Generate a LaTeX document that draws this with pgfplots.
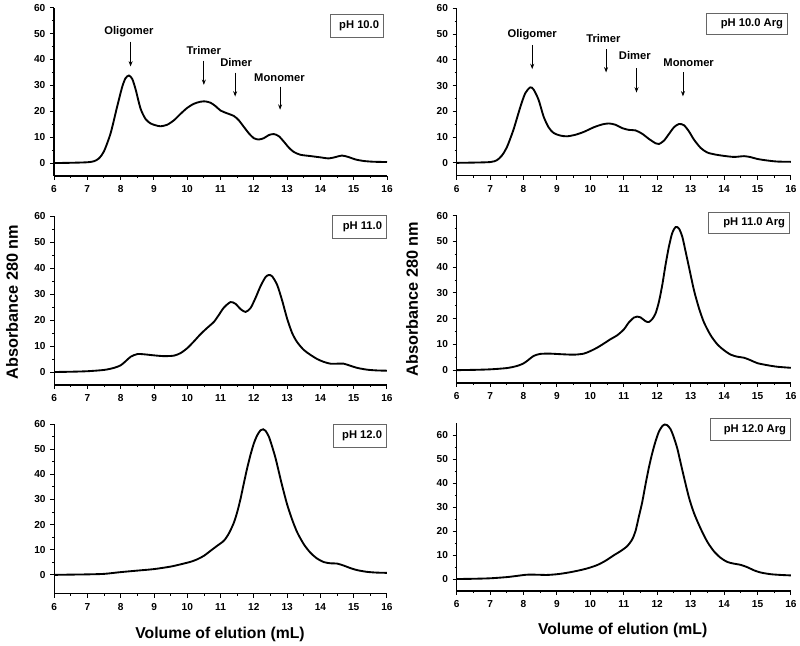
\documentclass[border=0pt]{standalone}
\usepackage{fontspec}
\setmainfont{Liberation Sans}
\usepackage{pgfplots}
\pgfplotsset{compat=1.18}
\usetikzlibrary{arrows.meta}

\pgfplotsset{
  panel/.style={
    scale only axis, anchor=south west, clip=false,
    xmin=6, xmax=16, xtick={6,...,16}, minor x tick num=1,
    ytick={0,10,...,60}, minor y tick num=1,
    axis lines=left, axis line style={-, line width=0.8pt},
    tick align=outside, major tick length=3pt, minor tick length=1.6pt,
    every tick/.style={black, line width=0.7pt},
    tick label style={font=\fontsize{7.6}{9}\selectfont\bfseries},
    /pgf/number format/assume math mode=true,
    xticklabel style={yshift=-0.5pt},
  },
  trace/.style={black, line width=1.4pt, smooth, tension=0.45},
}
% #1 position, #2 text, #3 box width, #4 box height
\newcommand{\phbox}[4]{\node[draw=gray!80!black, line width=0.6pt, anchor=north east,
  minimum height=#4, minimum width=#3, inner sep=0pt,
  font=\fontsize{8.4}{10}\selectfont\bfseries] (b) at (rel axis cs:#1) {};
  \node[anchor=east, inner sep=0pt, font=\fontsize{8.4}{10}\selectfont\bfseries] at ([xshift=-3.5pt]b.east) {#2};}
\tikzset{ann/.style={font=\fontsize{8.4}{10}\selectfont\bfseries},
  arr/.style={-{Stealth[length=4pt,width=3pt]}, line width=0.6pt}}

\begin{document}
\begin{tikzpicture}
\path[use as bounding box] (0,0) rectangle (600pt,484.5pt);

% pH 10.0
\begin{axis}[panel, at={(40.5pt,352.5pt)}, width=249.75pt, height=126.2pt, ymin=-5, ymax=60]
\addplot[trace] coordinates {(6,0)(6.5,0.1)(7,0.3)(7.2,0.7)(7.35,1.8)(7.5,4.5)(7.7,11.5)(7.9,22)(8.05,29.5)(8.15,32.8)(8.25,33.8)(8.35,32.5)(8.45,28.5)(8.6,21)(8.75,17)(8.9,15.3)(9.05,14.6)(9.2,14.2)(9.4,14.8)(9.6,16.5)(9.8,19)(10.0,21.3)(10.2,22.9)(10.4,23.7)(10.55,23.8)(10.7,23.3)(10.85,22)(11.0,20.3)(11.2,19.2)(11.4,18.2)(11.55,16.5)(11.7,14)(11.85,11.5)(12.0,9.6)(12.15,9.1)(12.3,9.6)(12.45,10.8)(12.6,11.2)(12.75,10.4)(12.9,8.3)(13.05,6)(13.2,4.3)(13.4,3.2)(13.7,2.7)(14.0,2.2)(14.25,1.8)(14.45,2.3)(14.65,2.9)(14.85,2.3)(15.05,1.4)(15.3,0.8)(15.6,0.5)(16,0.4)};
\phbox{0.991,0.963}{pH 10.0}{39.75pt}{17.25pt}
\node[ann] at (axis cs:8.25,50.6) {Oligomer};
\draw[arr] (axis cs:8.3,46.9) -- (axis cs:8.3,37.3);
\node[ann] at (axis cs:10.5,43.4) {Trimer};
\draw[arr] (axis cs:10.5,39.6) -- (axis cs:10.5,30.2);
\node[ann] at (axis cs:11.47,38.8) {Dimer};
\draw[arr] (axis cs:11.44,34.9) -- (axis cs:11.44,25.7);
\node[ann] at (axis cs:12.77,32.8) {Monomer};
\draw[arr] (axis cs:12.79,29.5) -- (axis cs:12.79,20.6);
\end{axis}

% pH 10.0 Arg
\begin{axis}[panel, at={(342.5pt,352.7pt)}, width=250.7pt, height=125.55pt, ymin=-5, ymax=60]
\addplot[trace] coordinates {(6,0)(6.5,0.1)(7,0.3)(7.2,1)(7.35,2.8)(7.5,6)(7.7,12.9)(7.9,21.5)(8.05,27)(8.2,29.3)(8.3,28.5)(8.45,24.5)(8.6,18)(8.75,13.8)(8.9,11.6)(9.1,10.6)(9.3,10.3)(9.55,10.9)(9.8,12)(10.1,13.8)(10.35,14.9)(10.55,15.3)(10.75,14.8)(10.95,13.5)(11.15,12.8)(11.35,12.6)(11.55,11.3)(11.75,9.3)(11.95,7.6)(12.05,7.3)(12.2,8.6)(12.35,11.2)(12.5,13.8)(12.65,15.1)(12.8,14.6)(12.95,12.2)(13.1,9)(13.3,5.8)(13.5,4)(13.75,3.2)(14.0,2.7)(14.3,2.3)(14.6,2.6)(14.8,2.2)(15.0,1.5)(15.3,0.9)(15.6,0.5)(16,0.4)};
\phbox{0.991,0.974}{pH 10.0 Arg}{61pt}{16.2pt}
\node[ann] at (axis cs:8.26,49.9) {Oligomer};
\draw[arr] (axis cs:8.26,45.8) -- (axis cs:8.26,36.4);
\node[ann] at (axis cs:10.39,48.1) {Trimer};
\draw[arr] (axis cs:10.47,44.1) -- (axis cs:10.47,35.1);
\node[ann] at (axis cs:11.33,41.5) {Dimer};
\draw[arr] (axis cs:11.38,36.8) -- (axis cs:11.38,27.3);
\node[ann] at (axis cs:12.94,38.7) {Monomer};
\draw[arr] (axis cs:12.77,35.1) -- (axis cs:12.77,25.8);
\end{axis}

% pH 11.0
\begin{axis}[panel, at={(40.7pt,195.75pt)}, width=249.5pt, height=126.75pt, ymin=-5, ymax=60]
\addplot[trace] coordinates {(6,0)(6.5,0.1)(7,0.3)(7.5,0.8)(7.8,1.6)(8.0,2.6)(8.15,4.2)(8.3,5.9)(8.5,6.9)(8.7,6.8)(9.0,6.4)(9.3,6.1)(9.6,6.3)(9.8,7.3)(10.0,9.2)(10.2,11.8)(10.4,14.6)(10.6,17)(10.8,19.3)(10.95,22)(11.1,24.8)(11.3,26.9)(11.45,26.2)(11.6,24.2)(11.75,23.1)(11.9,24.6)(12.05,28.5)(12.2,33)(12.35,36.5)(12.45,37.3)(12.55,36.8)(12.7,33.5)(12.85,27.5)(13.0,20.5)(13.15,15)(13.3,11.5)(13.5,8.5)(13.7,6.6)(13.9,5)(14.1,3.9)(14.3,3.2)(14.5,3.2)(14.7,3.2)(14.9,2.4)(15.1,1.6)(15.4,0.9)(15.7,0.6)(16,0.5)};
\phbox{1.0,1.006}{pH 11.0}{40.5pt}{17pt}
\end{axis}

% pH 11.0 Arg
\begin{axis}[panel, at={(342.5pt,197.25pt)}, width=250.7pt, height=125.5pt, ymin=-5, ymax=60]
\addplot[trace] coordinates {(6,0)(6.5,0.1)(7,0.3)(7.5,0.8)(7.8,1.6)(8.0,2.6)(8.15,4)(8.3,5.5)(8.5,6.3)(8.8,6.4)(9.1,6.2)(9.5,6)(9.8,6.4)(10.0,7.4)(10.2,8.7)(10.4,10.3)(10.6,12)(10.8,13.5)(11.0,15.8)(11.15,18.5)(11.3,20.4)(11.4,20.8)(11.5,20.5)(11.65,19)(11.75,18.7)(11.85,19.8)(11.95,22)(12.05,26.5)(12.15,33)(12.25,41)(12.35,48)(12.45,53.3)(12.55,55.6)(12.65,55)(12.75,51.8)(12.85,46)(12.95,40)(13.1,31)(13.25,24)(13.4,18.5)(13.6,13.5)(13.8,10)(14.0,7.7)(14.2,6)(14.4,5.2)(14.6,4.8)(14.8,3.8)(15.0,2.7)(15.3,1.9)(15.6,1.3)(16,0.9)};
\phbox{0.997,1.024}{pH 11.0 Arg}{61pt}{16.3pt}
\end{axis}

% pH 12.0
\begin{axis}[panel, at={(40.7pt,39.2pt)}, width=249.5pt, height=127.3pt, ymin=-7.5, ymax=60]
\addplot[trace] coordinates {(6,0)(6.5,0.1)(7,0.2)(7.5,0.4)(8.0,1.1)(8.5,1.7)(9.0,2.3)(9.5,3.3)(9.8,4.2)(10.1,5.2)(10.3,6.2)(10.5,7.6)(10.7,9.6)(10.9,11.6)(11.1,13.6)(11.25,16.5)(11.4,20.8)(11.5,25)(11.6,30.3)(11.7,36.5)(11.8,42.5)(11.9,47.8)(12.0,52.3)(12.1,55.5)(12.2,57.5)(12.28,57.9)(12.35,57.3)(12.45,55)(12.55,51)(12.65,46.5)(12.75,41)(12.85,35.5)(13.0,28)(13.15,22)(13.3,17)(13.5,12.2)(13.7,8.8)(13.9,6.5)(14.1,5.1)(14.3,4.6)(14.5,4.5)(14.7,3.7)(14.9,2.7)(15.1,1.9)(15.4,1.2)(15.7,0.9)(16,0.8)};
\phbox{1.0,1.0}{pH 12.0}{40pt}{17pt}
\end{axis}

% pH 12.0 Arg
\begin{axis}[panel, at={(342.5pt,41.25pt)}, width=250.7pt, height=125.8pt, ymin=-5, ymax=65]
\addplot[trace] coordinates {(6,0)(6.5,0.1)(7,0.3)(7.5,0.8)(7.8,1.3)(8.1,1.8)(8.4,1.8)(8.7,1.7)(9.0,2.0)(9.3,2.6)(9.6,3.4)(9.9,4.4)(10.2,5.8)(10.45,7.6)(10.7,9.9)(10.9,11.6)(11.1,13.7)(11.25,16.5)(11.35,20)(11.45,26)(11.55,32)(11.65,39.5)(11.75,46.5)(11.85,52.5)(11.95,57.5)(12.05,61.5)(12.15,63.8)(12.23,64.5)(12.3,64.2)(12.4,62.5)(12.5,59)(12.6,54.5)(12.7,48.5)(12.8,42.5)(12.95,34)(13.1,27.5)(13.3,21)(13.5,15.5)(13.7,11.5)(13.9,8.8)(14.1,7.1)(14.3,6.4)(14.5,5.9)(14.7,4.9)(14.9,3.6)(15.1,2.7)(15.4,2.0)(15.7,1.7)(16,1.5)};
\phbox{1.0,1.03}{pH 12.0 Arg}{60pt}{16.3pt}
\end{axis}

% shared labels
\node[rotate=90, font=\fontsize{12.2}{14}\selectfont\bfseries] at (9pt,258pt) {Absorbance 280 nm};
\node[rotate=90, font=\fontsize{12.2}{14}\selectfont\bfseries] at (309pt,260.25pt) {Absorbance 280 nm};
\node[font=\fontsize{11.8}{14}\selectfont\bfseries] at (165pt,9pt) {Volume of elution (mL)};
\node[font=\fontsize{11.8}{14}\selectfont\bfseries] at (467pt,12pt) {Volume of elution (mL)};
\end{tikzpicture}
\end{document}
